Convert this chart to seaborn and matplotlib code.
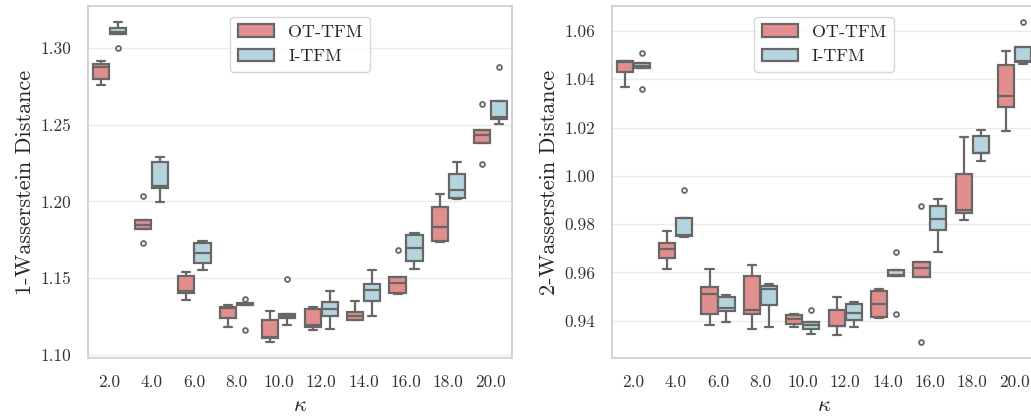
import numpy as np
import pandas as pd
import matplotlib
matplotlib.use("Agg")
import matplotlib.pyplot as plt
import seaborn as sns

kappas = [2.0, 4.0, 6.0, 8.0, 10.0, 12.0, 14.0, 16.0, 18.0, 20.0]
methods = ["OT-TFM", "I-TFM"]

# 1-Wasserstein distance, 5 runs per kappa
w1_ot = [
    [1.2757, 1.2800, 1.2878, 1.2896, 1.2917],
    [1.1728, 1.1818, 1.1846, 1.1876, 1.2035],
    [1.1358, 1.1402, 1.1418, 1.1514, 1.1541],
    [1.1181, 1.1237, 1.1305, 1.1308, 1.1327],
    [1.1083, 1.1110, 1.1113, 1.1228, 1.1287],
    [1.1163, 1.1183, 1.1192, 1.1295, 1.1311],
    [1.1226, 1.1228, 1.1250, 1.1278, 1.1347],
    [1.1398, 1.1402, 1.1467, 1.1507, 1.1680],
    [1.1735, 1.1743, 1.1830, 1.1961, 1.2048],
    [1.2245, 1.2380, 1.2435, 1.2467, 1.2637],
]
w1_i = [
    [1.3004, 1.3091, 1.3104, 1.3130, 1.3170],
    [1.1996, 1.2091, 1.2104, 1.2257, 1.2293],
    [1.1554, 1.1598, 1.1663, 1.1726, 1.1743],
    [1.1159, 1.1325, 1.1330, 1.1335, 1.1360],
    [1.1195, 1.1237, 1.1254, 1.1268, 1.1493],
    [1.1167, 1.1250, 1.1298, 1.1341, 1.1417],
    [1.1254, 1.1348, 1.1420, 1.1461, 1.1550],
    [1.1559, 1.1609, 1.1696, 1.1783, 1.1793],
    [1.2015, 1.2020, 1.2076, 1.2176, 1.2257],
    [1.2507, 1.2540, 1.2550, 1.2654, 1.2878],
]
# 2-Wasserstein distance
w2_ot = [
    [1.0366, 1.0430, 1.0472, 1.0475, 1.0476],
    [0.9614, 0.9659, 0.9697, 0.9721, 0.9772],
    [0.9381, 0.9429, 0.9512, 0.9539, 0.9615],
    [0.9366, 0.9429, 0.9443, 0.9586, 0.9632],
    [0.9374, 0.9388, 0.9407, 0.9422, 0.9426],
    [0.9339, 0.9377, 0.9380, 0.9446, 0.9499],
    [0.9411, 0.9414, 0.9470, 0.9523, 0.9531],
    [0.9312, 0.9579, 0.9618, 0.9643, 0.9877],
    [0.9818, 0.9846, 0.9857, 1.0006, 1.0160],
    [1.0186, 1.0284, 1.0332, 1.0459, 1.0517],
]
w2_i = [
    [1.0360, 1.0446, 1.0455, 1.0468, 1.0507],
    [0.9745, 0.9752, 0.9755, 0.9826, 0.9940],
    [0.9394, 0.9439, 0.9452, 0.9497, 0.9508],
    [0.9372, 0.9466, 0.9531, 0.9545, 0.9552],
    [0.9346, 0.9367, 0.9383, 0.9394, 0.9445],
    [0.9372, 0.9404, 0.9432, 0.9470, 0.9479],
    [0.9426, 0.9585, 0.9590, 0.9608, 0.9683],
    [0.9684, 0.9774, 0.9821, 0.9876, 0.9905],
    [1.0061, 1.0093, 1.0095, 1.0166, 1.0190],
    [1.0463, 1.0473, 1.0476, 1.0535, 1.0636],
]


def long_frame(ot, it):
    rows = []
    for name, vals in ((methods[0], ot), (methods[1], it)):
        for k, runs in zip(kappas, vals):
            for v in runs:
                rows.append({"kappa": k, "method": name, "value": v})
    return pd.DataFrame(rows)


sns.set_theme(style="whitegrid")
plt.rcParams["font.family"] = ["cmr10", "DejaVu Serif"]
plt.rcParams["mathtext.fontset"] = "cm"
plt.rcParams["axes.formatter.use_mathtext"] = True
plt.rcParams["axes.unicode_minus"] = False
plt.rcParams["grid.color"] = "#ebebeb"
plt.rcParams["axes.edgecolor"] = "#cccccc"

fig = plt.figure(figsize=(10.31, 4.19), dpi=100)
ax1 = fig.add_axes([0.0854, 0.1456, 0.4112, 0.8401])
ax2 = fig.add_axes([0.5936, 0.1456, 0.4112, 0.8401])

line = "#676767"
flier = dict(marker="o", markersize=3.5, markerfacecolor="white",
             markeredgecolor=line, markeredgewidth=1.3)

panels = [
    (ax1, long_frame(w1_ot, w1_i), "1-Wasserstein Distance", (1.0978, 1.3276), [1.10, 1.15, 1.20, 1.25, 1.30]),
    (ax2, long_frame(w2_ot, w2_i), "2-Wasserstein Distance", (0.92456, 1.07034), [0.94, 0.96, 0.98, 1.00, 1.02, 1.04, 1.06]),
]

for ax, df, ylab, ylim, yt in panels:
    sns.boxplot(data=df, x="kappa", y="value", hue="method", hue_order=methods,
                palette=["lightcoral", "lightblue"], saturation=0.75,
                width=0.8, gap=0.05, linewidth=1.6, linecolor=line,
                flierprops=flier, ax=ax)
    ax.set_ylim(*ylim)
    ax.set_yticks(yt)
    ax.set_yticklabels([f"{t:.2f}" for t in yt])
    ax.set_xlabel(r"$\kappa$", fontsize=16)
    ax.set_ylabel(ylab, fontsize=16)
    ax.tick_params(axis="both", labelsize=12.5, colors="#333333", pad=6)
    ax.grid(axis="y", color="#ebebeb", linewidth=1.0)
    ax.grid(axis="x", visible=False)
    for s in ax.spines.values():
        s.set_color("#cccccc")
        s.set_linewidth(1.2)
    sns.move_legend(ax, "upper center", title=None, fontsize=13, frameon=True,
                    borderaxespad=0.6)
    leg = ax.get_legend()
    leg.get_frame().set_edgecolor("#cccccc")

fig.savefig("out.png", dpi=100)
